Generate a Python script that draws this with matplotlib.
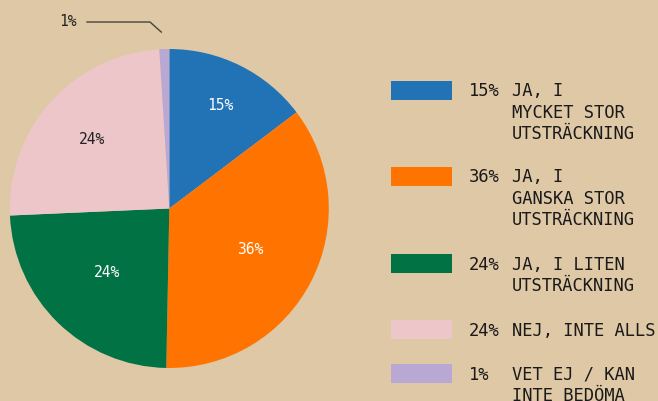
import matplotlib
matplotlib.use("Agg")
import matplotlib.pyplot as plt
from matplotlib.patches import Rectangle
import numpy as np

labels = ["JA, I\nMYCKET STOR\nUTSTRÄCKNING",
          "JA, I\nGANSKA STOR\nUTSTRÄCKNING",
          "JA, I LITEN\nUTSTRÄCKNING",
          "NEJ, INTE ALLS",
          "VET EJ / KAN\nINTE BEDÖMA"]
values = [14.7, 35.6, 24.0, 24.7, 1.0]
pct_labels = ["15%", "36%", "24%", "24%", "1%"]
colors = ["#2272b6", "#ff7400", "#007244", "#ecc6c8", "#baa8d4"]
label_colors = ["white", "white", "white", "#222222", "#222222"]

BG = "#dfc8a6"
W, H = 658, 401
fig = plt.figure(figsize=(W / 100, H / 100), dpi=100, facecolor=BG)
ax = fig.add_axes([0, 0, 1, 1])
ax.set_facecolor(BG)

cx, cy, R = 169.3, H - 208.5, 159.5
ax.pie(values, colors=colors, startangle=90, counterclock=False,
       center=(cx, cy), radius=R, frame=True,
       wedgeprops=dict(linewidth=0))
ax.set_xlim(0, W)
ax.set_ylim(0, H)
ax.axis("off")

font = "DejaVu Sans Mono"
dists = [0.72, 0.57, 0.56, 0.65]
total = sum(values)
cum = 0
for i, v in enumerate(values):
    mid = 90 - 360 * (cum + v / 2) / total
    cum += v
    if i < 4:
        r = dists[i] * R
        x = cx + r * np.cos(np.radians(mid))
        y = cy + r * np.sin(np.radians(mid))
        ax.text(x, y, pct_labels[i], color=label_colors[i], ha="center", va="center",
                fontsize=10.5, family=font)
    else:
        ex = cx + R * np.cos(np.radians(mid))
        ey = cy + R * np.sin(np.radians(mid))
        ax.plot([ex - 3, 150, 87], [ey + 17, H - 22, H - 22], color="#444438", lw=1.0)
        ax.text(68, H - 22, pct_labels[i], color="#222222", ha="center", va="center",
                fontsize=10.5, family=font)

# legend
ys = [90.5, 176.5, 263.5, 329.5, 373.5]
for i in range(len(values)):
    y = H - ys[i]
    ax.add_patch(Rectangle((391, y - 9.5), 61, 19, color=colors[i], lw=0))
    ax.text(469, y + 8, pct_labels[i], ha="left", va="top", fontsize=12.3, family=font,
            color="#1a1a1a", linespacing=1.22)
    ax.text(512, y + 8, labels[i], ha="left", va="top", fontsize=12.3, family=font,
            color="#1a1a1a", linespacing=1.22)

fig.savefig("out.png", dpi=100, facecolor=BG)
